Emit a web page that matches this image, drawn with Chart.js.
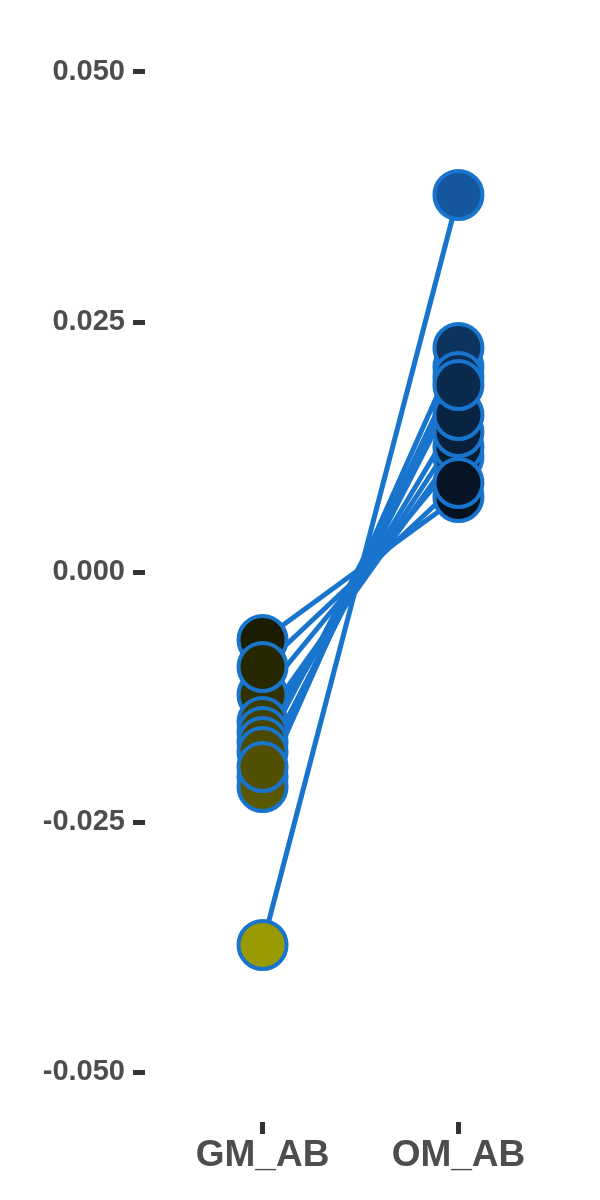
<!DOCTYPE html>
<html>
<head>
<meta charset="utf-8">
<script src="https://cdn.jsdelivr.net/npm/chart.js@4/dist/chart.umd.min.js"></script>
<style>
  body { margin: 0; background: #fff; }
  #chart { display: block; }
</style>
</head>
<body>
<canvas id="chart" width="600" height="1200"></canvas>
<script>
// categories and paired values (one pair per sample, drawn GM -> OM)
const categories = ['GM_AB', 'OM_AB'];
const gmAB = [-0.0068, -0.0123, -0.0150, -0.0160, -0.0170, -0.0205, -0.0215, -0.0180, -0.0373, -0.0095, -0.0195];
const omAB = [0.0075, 0.0115, 0.0125, 0.0140, 0.0157, 0.0205, 0.0224, 0.0195, 0.0377, 0.0089, 0.0187];
const yTicks = [-0.05, -0.025, 0, 0.025, 0.05];

const lineBlue = '#1874CD';
const textGrey = '#4d4d4d';

// fill colour scales with the size of the value
function gmColor(v) {
    const a = Math.min(255, Math.round(Math.abs(v) * 4100));
    return 'rgb(' + a + ',' + a + ',0)';
}
function omColor(v) {
    const a = Math.abs(v);
    return 'rgb(' + Math.round(a * 557) + ',' + Math.round(a * 2308) + ',' + Math.round(a * 4191) + ')';
}

const datasets = [];
// connecting lines, one per sample
gmAB.forEach(function (g, i) {
    datasets.push({
        type: 'line',
        data: [{ x: 1, y: g }, { x: 2, y: omAB[i] }],
        borderColor: lineBlue,
        borderWidth: 5,
        pointRadius: 0,
        pointHoverRadius: 0,
        order: 2
    });
});
// points on top
datasets.push({
    type: 'scatter',
    data: gmAB.map(function (g) { return { x: 1, y: g }; }),
    pointRadius: 24,
    pointHoverRadius: 24,
    pointBorderWidth: 4,
    pointBorderColor: lineBlue,
    pointBackgroundColor: gmAB.map(gmColor),
    clip: false,
    order: 1
});
datasets.push({
    type: 'scatter',
    data: omAB.map(function (o) { return { x: 2, y: o }; }),
    pointRadius: 24,
    pointHoverRadius: 24,
    pointBorderWidth: 4,
    pointBorderColor: lineBlue,
    pointBackgroundColor: omAB.map(omColor),
    clip: false,
    order: 1
});

const ctx = document.getElementById('chart').getContext('2d');
const chart = new Chart(ctx, {
    type: 'line',
    data: { datasets: datasets },
    options: {
        responsive: false,
        animation: false,
        layout: { autoPadding: false, padding: { top: 22, right: 24, left: 0, bottom: 0 } },
        plugins: {
            legend: { display: false },
            tooltip: { enabled: false }
        },
        scales: {
            x: {
                type: 'linear',
                min: 0.4,
                max: 2.6,
                afterBuildTicks: function (scale) {
                    scale.ticks = categories.map(function (c, i) { return { value: i + 1 }; });
                },
                afterFit: function (scale) {
                    scale.height = 78;
                    scale.paddingLeft = 0;
                    scale.paddingRight = 0;
                },
                grid: { drawOnChartArea: false, drawTicks: true, tickLength: 12, lineWidth: 5, color: '#333333' },
                border: { display: false },
                ticks: {
                    padding: 0,
                    color: textGrey,
                    font: { family: '"Liberation Sans", Arial, sans-serif', size: 37, weight: 'bold' },
                    callback: function (v) { return categories[v - 1]; }
                }
            },
            y: {
                min: -0.055,
                max: 0.055,
                afterBuildTicks: function (scale) {
                    scale.ticks = yTicks.map(function (t) { return { value: t }; });
                },
                afterFit: function (scale) {
                    scale.width = 145;
                    scale.paddingTop = 0;
                    scale.paddingBottom = 0;
                },
                grid: { drawOnChartArea: false, drawTicks: true, tickLength: 12, lineWidth: 5, color: '#333333' },
                border: { display: false },
                ticks: {
                    padding: 8,
                    color: textGrey,
                    font: { family: '"Liberation Sans", Arial, sans-serif', size: 29, weight: 'bold' },
                    callback: function (v) { return v.toFixed(3); }
                }
            }
        }
    }
});
</script>
</body>
</html>
